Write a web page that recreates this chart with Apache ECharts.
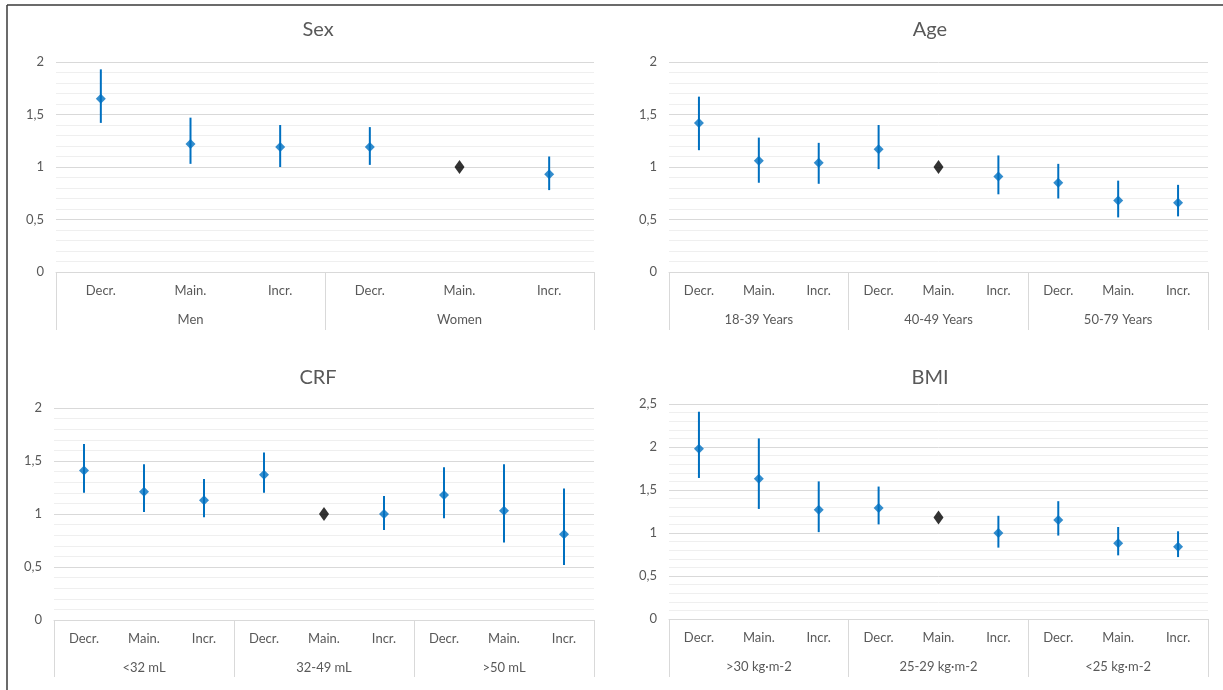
<!DOCTYPE html>
<html>
<head>
<meta charset="utf-8">
<script src="https://cdn.jsdelivr.net/npm/echarts@6/dist/echarts.min.js"></script>
<style>
html,body{margin:0;padding:0;background:#fff;}
#c{width:1223px;height:690px;}
</style>
</head>
<body>
<div id="c"></div>
<script>
// ---- data ----
const innerLabels = ['Decr.', 'Main.', 'Incr.'];

const sexGroups = ['Men', 'Women'];
const sexEst  = [1.65, 1.22, 1.19, 1.19, null, 0.93];
const sexLow  = [1.42, 1.03, 1.00, 1.02, null, 0.78];
const sexHigh = [1.93, 1.47, 1.40, 1.38, null, 1.10];
const sexRef  = [null, null, null, null, 1.00, null];

const ageGroups = ['18-39 Years', '40-49 Years', '50-79 Years'];
const ageEst  = [1.42, 1.06, 1.04, 1.17, null, 0.91, 0.85, 0.68, 0.66];
const ageLow  = [1.16, 0.85, 0.84, 0.98, null, 0.74, 0.70, 0.52, 0.53];
const ageHigh = [1.67, 1.28, 1.23, 1.40, null, 1.11, 1.03, 0.87, 0.83];
const ageRef  = [null, null, null, null, 1.00, null, null, null, null];

const crfGroups = ['<32 mL', '32-49 mL', '>50 mL'];
const crfEst  = [1.41, 1.21, 1.13, 1.37, null, 1.00, 1.18, 1.03, 0.81];
const crfLow  = [1.20, 1.02, 0.97, 1.20, null, 0.85, 0.96, 0.73, 0.52];
const crfHigh = [1.66, 1.47, 1.33, 1.58, null, 1.17, 1.44, 1.47, 1.24];
const crfRef  = [null, null, null, null, 1.00, null, null, null, null];

const bmiGroups = ['>30 kg\u00b7m-2', '25-29 kg\u00b7m-2', '<25 kg\u00b7m-2'];
const bmiEst  = [1.98, 1.63, 1.27, 1.29, null, 1.00, 1.15, 0.88, 0.84];
const bmiLow  = [1.64, 1.28, 1.01, 1.10, null, 0.83, 0.97, 0.74, 0.72];
const bmiHigh = [2.41, 2.10, 1.60, 1.54, null, 1.20, 1.37, 1.07, 1.02];
const bmiRef  = [null, null, null, null, 1.18, null, null, null, null];

const panelTitles = ['Sex', 'Age', 'CRF', 'BMI'];
const yMaxes = [2, 2, 2, 2.5];
const yInterval = 0.5;

// ---- layout / style ----
const FONT = 'Lato, "Noto Sans", sans-serif';
const TXT = '#595959';
const BLUE = '#0070C0';
const grids = [
  {left: 56,  top: 62,  width: 538, height: 210},
  {left: 669, top: 62,  width: 539, height: 210},
  {left: 54,  top: 408, width: 540, height: 212},
  {left: 669, top: 404, width: 539, height: 215}
];
const titlePos = [[313, 15], [925, 15], [313, 363], [925, 363]];
const sepLen = [58, 58, 57, 58];

const panels = [
  {groups: sexGroups, est: sexEst, low: sexLow, high: sexHigh, ref: sexRef},
  {groups: ageGroups, est: ageEst, low: ageLow, high: ageHigh, ref: ageRef},
  {groups: crfGroups, est: crfEst, low: crfLow, high: crfHigh, ref: crfRef},
  {groups: bmiGroups, est: bmiEst, low: bmiLow, high: bmiHigh, ref: bmiRef}
];

const option = {
  animation: false,
  backgroundColor: '#fff',
  title: [], grid: [], xAxis: [], yAxis: [], series: [],
  graphic: [
    {type: 'line', shape: {x1: 7, y1: 5, x2: 1223, y2: 5}, style: {stroke: '#3a3a3a', lineWidth: 1.5}},
    {type: 'line', shape: {x1: 7, y1: 5, x2: 7, y2: 690}, style: {stroke: '#3a3a3a', lineWidth: 1.5}}
  ]
};

panels.forEach((p, i) => {
  const cats = [];
  p.groups.forEach(() => innerLabels.forEach(l => cats.push(l)));
  option.title.push({
    text: panelTitles[i], left: titlePos[i][0], top: titlePos[i][1], textAlign: 'center',
    textStyle: {fontFamily: FONT, fontSize: 20, fontWeight: 'normal', color: TXT}
  });
  option.grid.push(Object.assign({containLabel: false}, grids[i]));
  option.xAxis.push({
    type: 'category', gridIndex: i, data: cats, boundaryGap: true,
    axisLine: {show: true, lineStyle: {color: '#d9d9d9', width: 1}},
    axisTick: {show: false},
    axisLabel: {fontFamily: FONT, fontSize: 13, color: TXT, margin: 12, interval: 0},
    splitLine: {show: false}
  });
  option.xAxis.push({
    type: 'category', gridIndex: i, data: p.groups, position: 'bottom', boundaryGap: true,
    axisLine: {show: false},
    axisTick: {show: true, length: sepLen[i], lineStyle: {color: '#d9d9d9', width: 1}},
    axisLabel: {fontFamily: FONT, fontSize: 13, color: TXT, margin: 41, interval: 0},
    splitLine: {show: false}
  });
  option.yAxis.push({
    type: 'value', gridIndex: i, min: 0, max: yMaxes[i], interval: yInterval,
    axisLine: {show: false}, axisTick: {show: false},
    axisLabel: {fontFamily: FONT, fontSize: 13, color: TXT, margin: 12,
      formatter: v => String(v).replace('.', ',')},
    splitLine: {show: true, lineStyle: {color: '#d9d9d9', width: 1}},
    minorTick: {show: false, splitNumber: 5},
    minorSplitLine: {show: true, lineStyle: {color: '#efefef', width: 1}}
  });
  const xIdx = i * 2;
  const bars = [];
  p.est.forEach((v, k) => {
    if (p.low[k] != null && p.high[k] != null) bars.push([k, p.low[k], p.high[k]]);
  });
  option.series.push({
    type: 'custom', xAxisIndex: xIdx, yAxisIndex: i, data: bars, z: 2,
    renderItem: (params, api) => {
      const a = api.coord([api.value(0), api.value(1)]);
      const b = api.coord([api.value(0), api.value(2)]);
      return {type: 'line', shape: {x1: a[0], y1: a[1], x2: b[0], y2: b[1]},
        style: {stroke: BLUE, lineWidth: 2}};
    }
  });
  option.series.push({
    type: 'scatter', xAxisIndex: xIdx, yAxisIndex: i, z: 3,
    data: p.est.map((v, k) => [k, v]).filter(d => d[1] != null),
    symbol: 'diamond', symbolSize: [10, 10],
    itemStyle: {color: BLUE}
  });
  option.series.push({
    type: 'scatter', xAxisIndex: xIdx, yAxisIndex: i, z: 3,
    data: p.ref.map((v, k) => [k, v]).filter(d => d[1] != null),
    symbol: 'diamond', symbolSize: [10, 14],
    itemStyle: {color: '#000'}
  });
});

const chart = echarts.init(document.getElementById('c'), null, {renderer: 'canvas'});
chart.setOption(option);
</script>
</body>
</html>
